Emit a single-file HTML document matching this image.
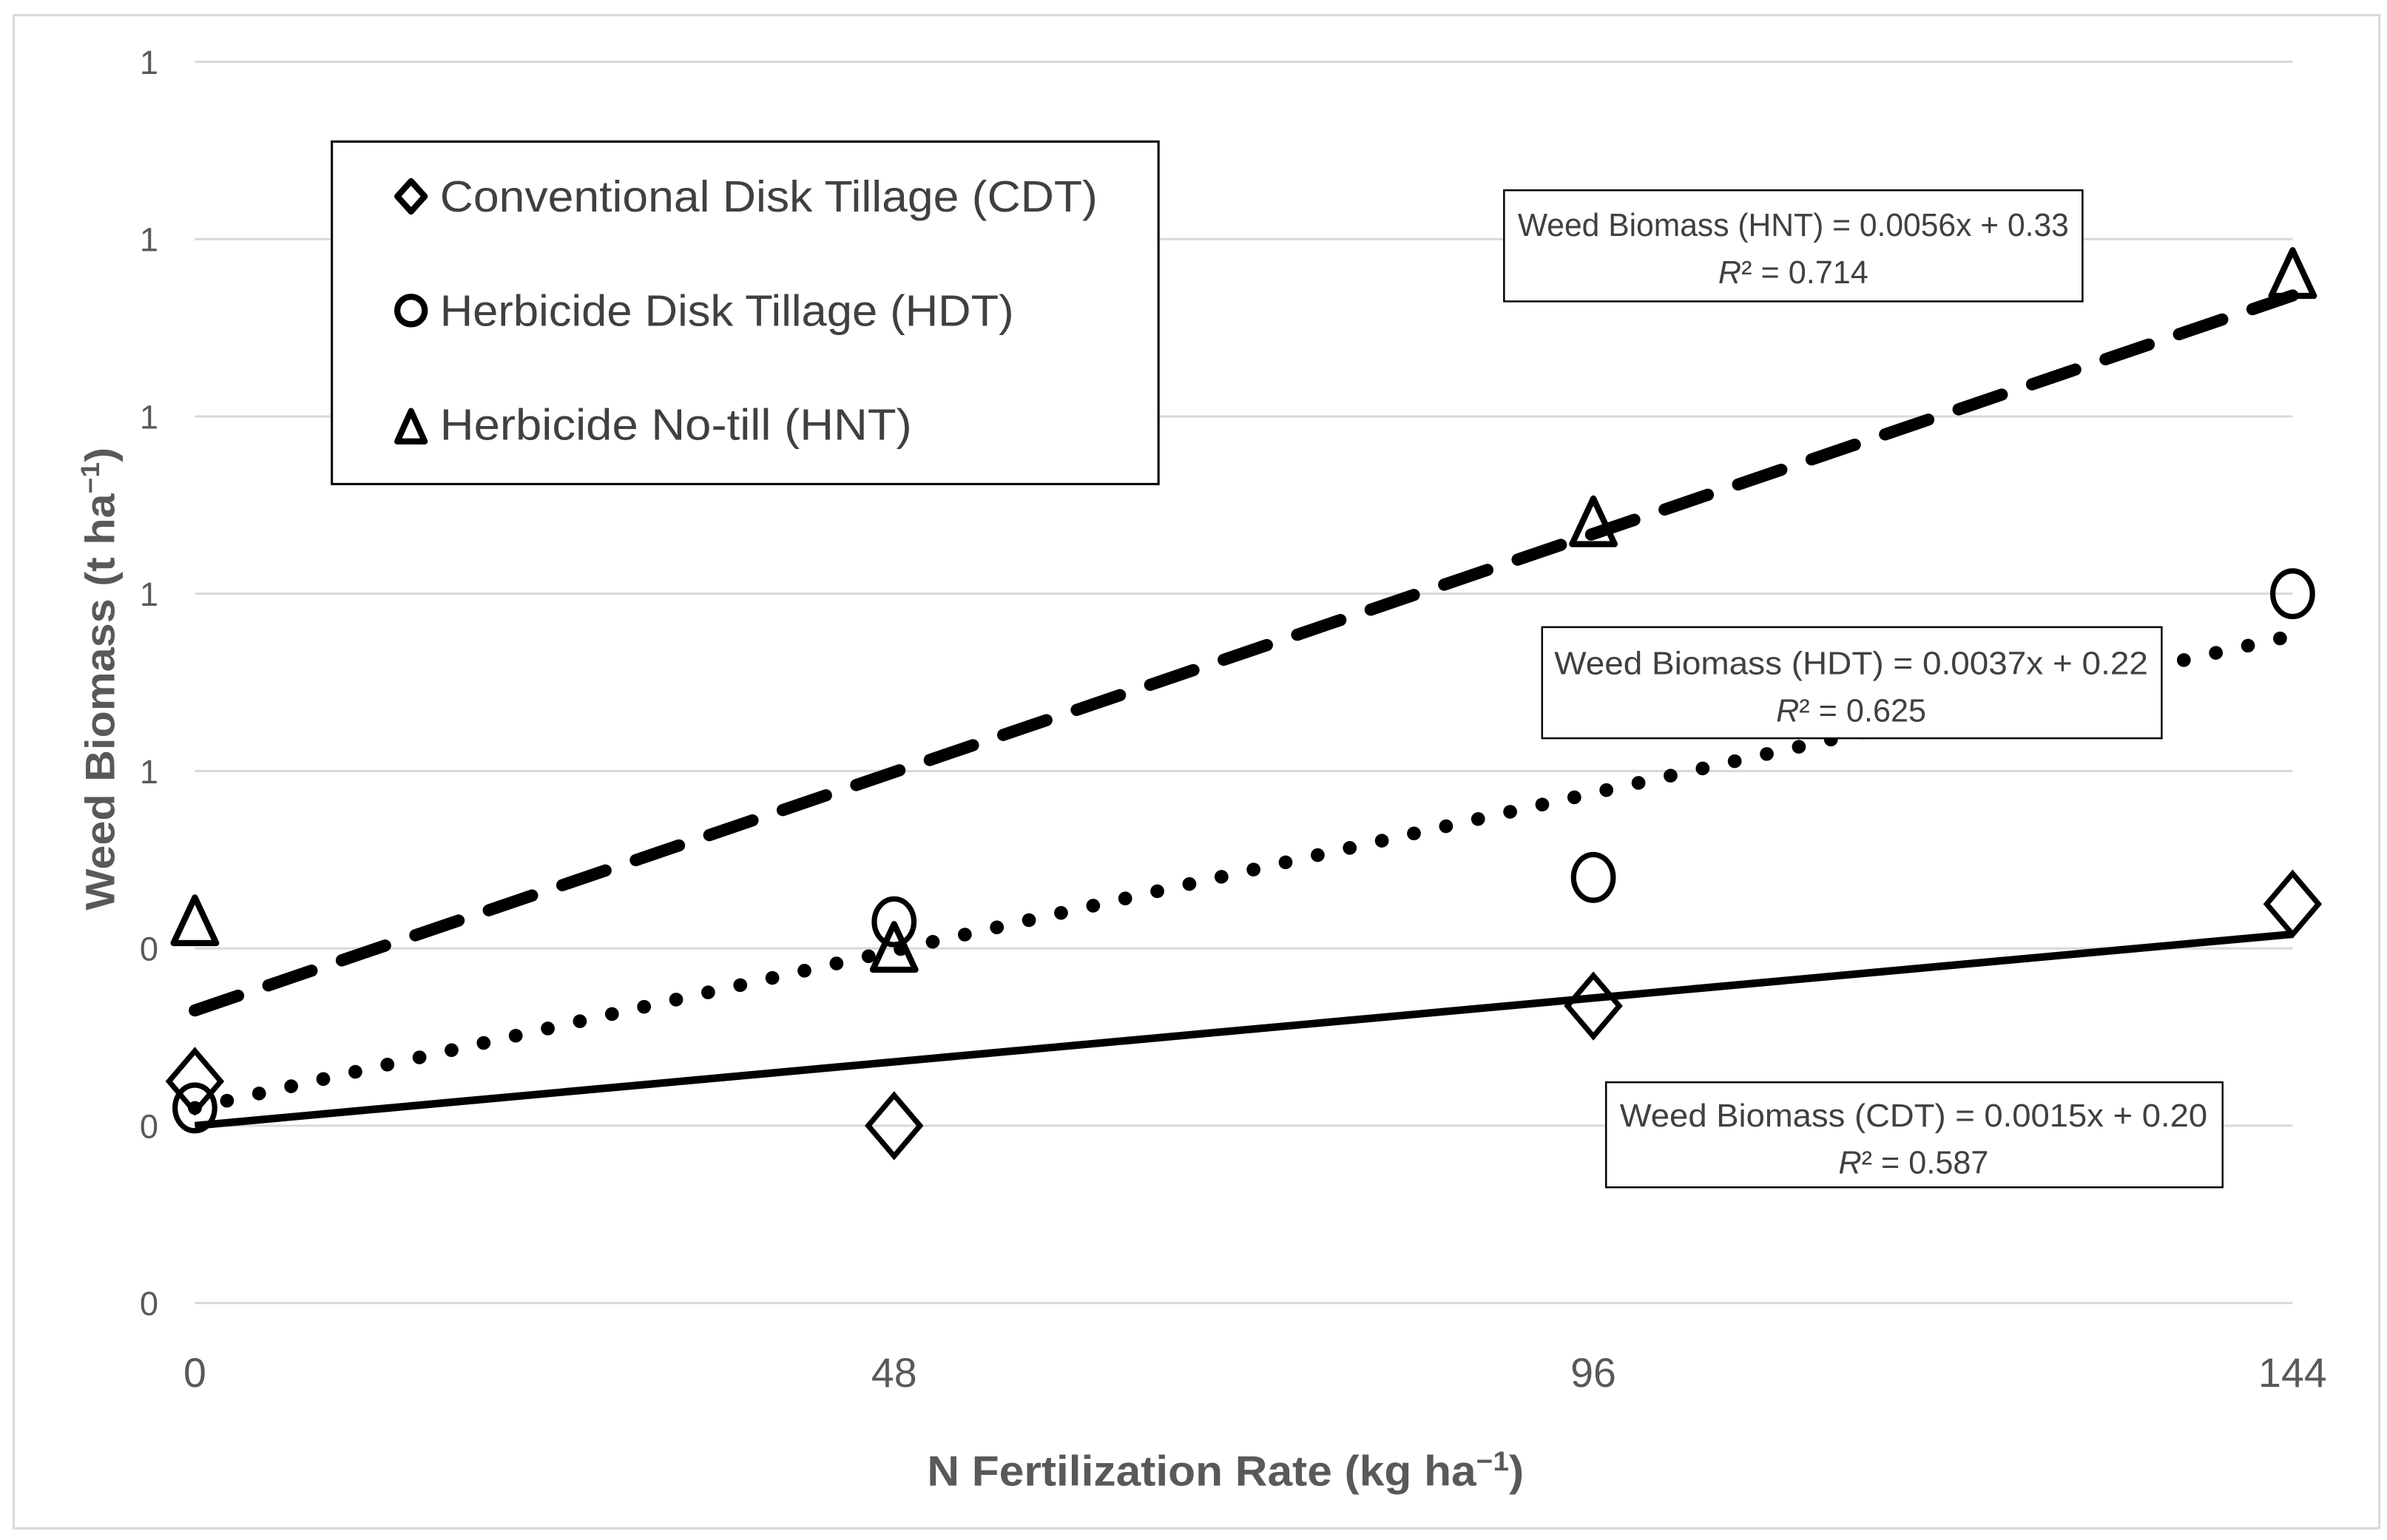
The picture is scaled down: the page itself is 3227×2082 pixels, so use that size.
<!DOCTYPE html>
<html><head><meta charset="utf-8"><style>
html,body{margin:0;padding:0;background:#fff;}
svg{display:block;}
text{font-family:"Liberation Sans Narrow","Liberation Sans",sans-serif;}
</style></head><body>
<svg id="chart" width="3227" height="2082" viewBox="0 0 1568 1011.7" preserveAspectRatio="none" xmlns="http://www.w3.org/2000/svg">
<rect x="9" y="10" width="1554" height="994" fill="#fff" stroke="#d9d9d9" stroke-width="1.5"/>
<g id="grid"></g>
<g id="yticks"></g>
<g id="xticks"></g>
<g id="trends"></g>
<g id="points"></g>
<text transform="translate(75,446) rotate(-90)" text-anchor="middle" font-family="Liberation Sans, sans-serif" font-weight="bold" font-size="27" fill="#595959" textLength="304" lengthAdjust="spacingAndGlyphs">Weed Biomass (t ha<tspan font-size="17" dy="-10">−1</tspan><tspan dy="10">)</tspan></text>
<text x="805" y="976" text-anchor="middle" font-weight="bold" font-size="28" fill="#595959" textLength="392" lengthAdjust="spacingAndGlyphs">N Fertilization Rate (kg ha<tspan font-size="18" dy="-10">−1</tspan><tspan dy="10">)</tspan></text>
<g>
<rect x="218" y="93" width="543" height="225" fill="#fff" stroke="#000" stroke-width="1.5"/>
<path d="M270,119 L279,129 L270,139 L261,129 Z" fill="#fff" stroke="#000" stroke-width="4" stroke-linejoin="round"/>
<text x="289" y="139" font-size="29" fill="#404040" textLength="432" lengthAdjust="spacingAndGlyphs">Conventional  Disk Tillage (CDT)</text>
<circle cx="270" cy="204" r="9" fill="#fff" stroke="#000" stroke-width="4"/>
<text x="289" y="214" font-size="29" fill="#404040" textLength="377" lengthAdjust="spacingAndGlyphs">Herbicide Disk Tillage (HDT)</text>
<path d="M270,270 L279,290 L261,290 Z" fill="#fff" stroke="#000" stroke-width="4" stroke-linejoin="round"/>
<text x="289" y="289" font-size="29" fill="#404040" textLength="310" lengthAdjust="spacingAndGlyphs">Herbicide No-till (HNT)</text>
</g>
<g>
<rect x="988" y="125" width="380" height="73" fill="#fff" stroke="#000" stroke-width="1.2"/>
<text x="1178" y="155" text-anchor="middle" font-size="21" fill="#404040" textLength="362" lengthAdjust="spacingAndGlyphs">Weed Biomass (HNT) = 0.0056x + 0.33</text>
<text x="1178" y="186" text-anchor="middle" font-size="21" fill="#404040"><tspan font-style="italic">R</tspan>² = 0.714</text>
</g>
<g>
<rect x="1013" y="412" width="407" height="73" fill="#fff" stroke="#000" stroke-width="1.2"/>
<text x="1216" y="443" text-anchor="middle" font-size="21" fill="#404040" textLength="390" lengthAdjust="spacingAndGlyphs">Weed Biomass (HDT) = 0.0037x + 0.22</text>
<text x="1216" y="474" text-anchor="middle" font-size="21" fill="#404040"><tspan font-style="italic">R</tspan>² = 0.625</text>
</g>
<g>
<rect x="1055" y="711" width="405" height="69" fill="#fff" stroke="#000" stroke-width="1.2"/>
<text x="1257" y="740" text-anchor="middle" font-size="21" fill="#404040" textLength="386" lengthAdjust="spacingAndGlyphs">Weed Biomass (CDT) = 0.0015x + 0.20</text>
<text x="1257" y="771" text-anchor="middle" font-size="21" fill="#404040"><tspan font-style="italic">R</tspan>² = 0.587</text>
</g>
</svg>
<script>
const xCategories = [0, 48, 96, 144];
const yTicks = [0, 0.2, 0.4, 0.6, 0.8, 1.0, 1.2, 1.4];
const yTickLabels = ["0", "0", "0", "1", "1", "1", "1", "1"];
const cdtValues = [0.25, 0.20, 0.335, 0.45];
const hdtValues = [0.22, 0.43, 0.48, 0.80];
const hntValues = [0.43, 0.40, 0.88, 1.16];
const cdtTrend = [0.0015, 0.20];
const hdtTrend = [0.0037, 0.22];
const hntTrend = [0.0056, 0.33];

const NS = "http://www.w3.org/2000/svg";
const X0 = 128, X1 = 1506, Y0 = 856, Y1 = 40.6;
function xs(v){ return X0 + (v - 0) / (144 - 0) * (X1 - X0); }
function ys(v){ return Y0 - (v - 0) / (1.4 - 0) * (Y0 - Y1); }
function mk(tag, attrs, parent){
  const e = document.createElementNS(NS, tag);
  for (const k in attrs) e.setAttribute(k, attrs[k]);
  parent.appendChild(e); return e;
}
const grid = document.getElementById('grid');
const yt = document.getElementById('yticks');
yTicks.forEach((t, i) => {
  const l = mk('line', {x1: X0, x2: X1, y1: ys(t), y2: ys(t), stroke: '#d9d9d9', 'stroke-width': 1.5}, grid);
  
  
  const tx = mk('text', {x: 104, y: ys(t) + 8, 'text-anchor': 'end', 'font-size': 22, fill: '#595959'}, yt);
  tx.textContent = yTickLabels[i];
  
  
});
const xt = document.getElementById('xticks');
xCategories.forEach(c => {
  const tx = mk('text', {x: xs(c), y: 911, 'text-anchor': 'middle', 'font-size': 27, fill: '#595959'}, xt);
  tx.textContent = String(c);
  
  
});
const trends = document.getElementById('trends');
function trend(coef, style, name){
  const a = coef[0], b = coef[1];
  const l = mk('line', Object.assign({x1: xs(0), y1: ys(b), x2: xs(144), y2: ys(b + a * 144), stroke: '#000'}, style), trends);
  
  
}
trend(cdtTrend, {'stroke-width': 5}, 'trendline-cdt');
trend(hdtTrend, {'stroke-width': 9, 'stroke-linecap': 'round', 'stroke-dasharray': '0.1 21.5'}, 'trendline-hdt');
trend(hntTrend, {'stroke-width': 8, 'stroke-linecap': 'round', 'stroke-dasharray': '30 21'}, 'trendline-hnt');
const pts = document.getElementById('points');
xCategories.forEach((c, i) => {
  const x = xs(c);
  let y = ys(cdtValues[i]);
  const d = mk('path', {d: `M${x},${y-20} L${x+17},${y} L${x},${y+20} L${x-17},${y} Z`, fill: 'none', stroke: '#000', 'stroke-width': 3.5}, pts);
  
  
  y = ys(hdtValues[i]);
  const ci = mk('ellipse', {cx: x, cy: y, rx: 13, ry: 15, fill: 'none', stroke: '#000', 'stroke-width': 3.5}, pts);
  
  
  y = ys(hntValues[i]);
  const tr = mk('path', {d: `M${x},${y-16} L${x+14},${y+14} L${x-14},${y+14} Z`, fill: 'none', stroke: '#000', 'stroke-width': 4, 'stroke-linejoin': 'round'}, pts);
  
  
});
</script>
</body></html>
